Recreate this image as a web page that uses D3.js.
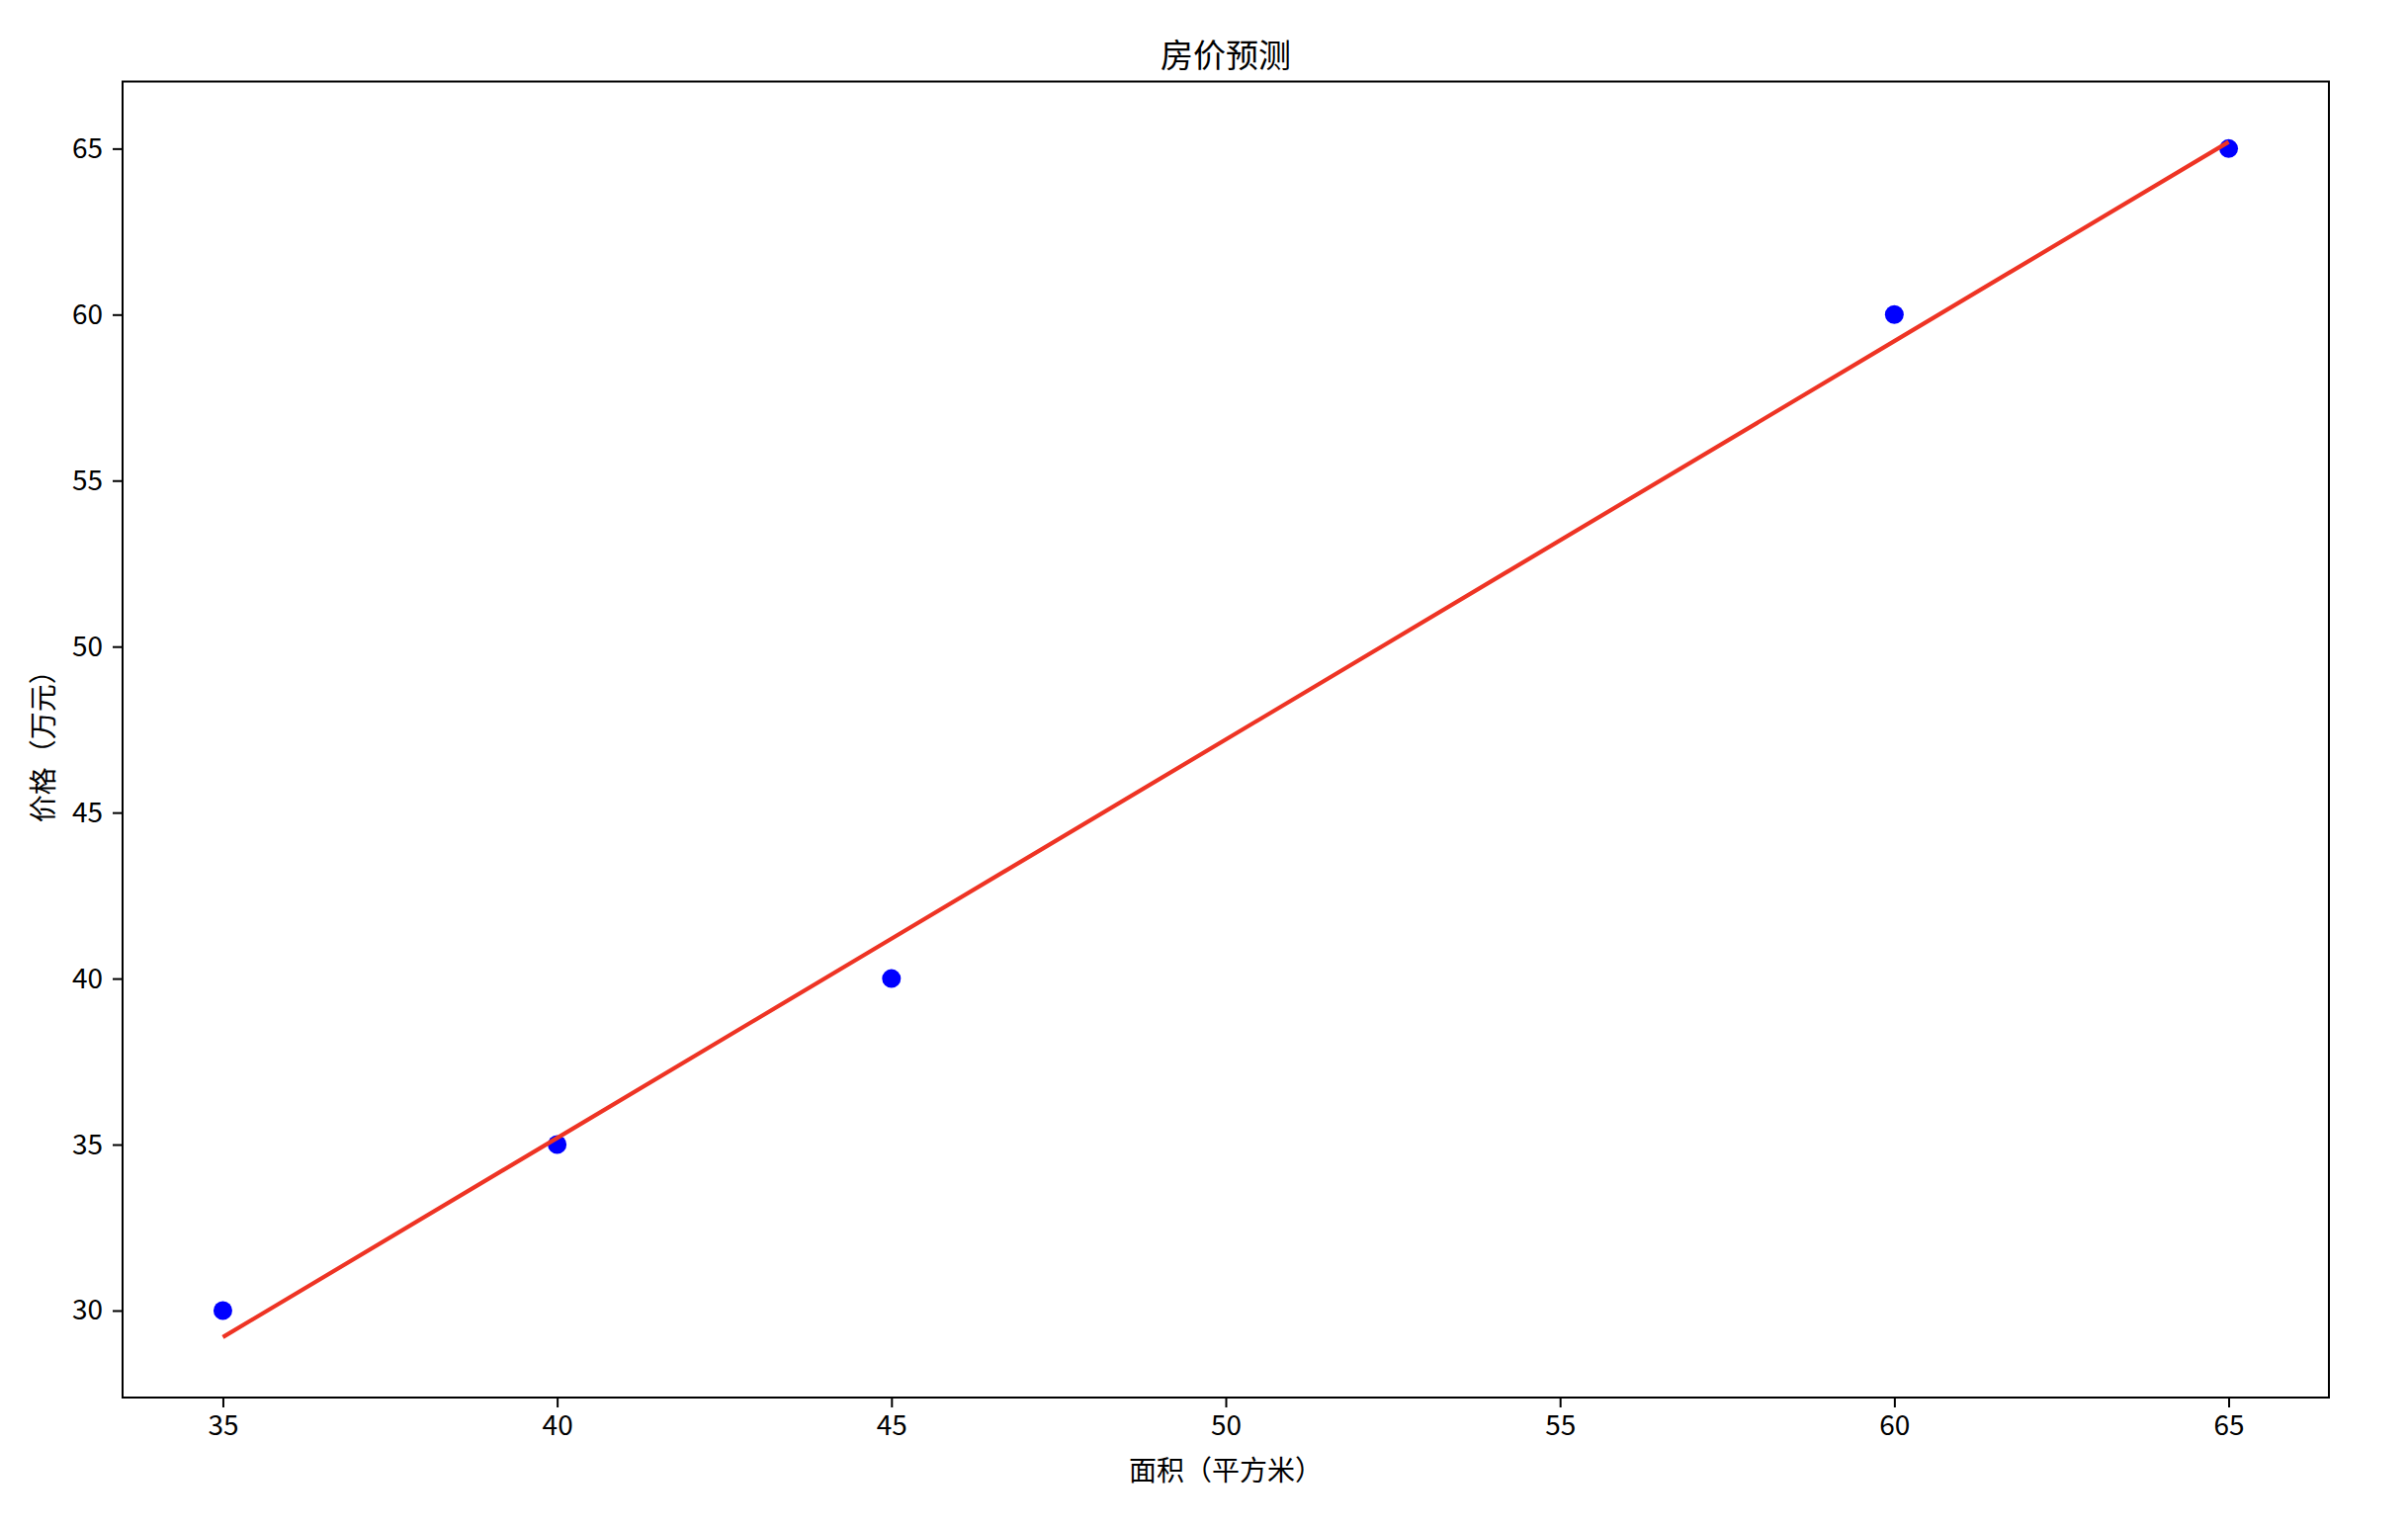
<!DOCTYPE html>
<html>
<head>
<meta charset="utf-8">
<script src="https://cdn.jsdelivr.net/npm/d3@7"></script>
<style>
  body { margin: 0; background: #fff; }
  text { font-family: "Noto Sans CJK SC", "Noto Sans", sans-serif; fill: #000; }
</style>
</head>
<body>
<div id="chart"></div>
<script>
const AREA = [35, 40, 45, 60, 65];
const PRICE = [30, 35, 40, 60, 65];
// predicted price for each area
const PREDICTED = [29.2, 35.2, 41.2, 59.2, 65.2];
const X_TICKS = [35, 40, 45, 50, 55, 60, 65];
const Y_TICKS = [30, 35, 40, 45, 50, 55, 60, 65];

const width = 2436;
const height = 1546;
const margin = { top: 82.5, right: 80, bottom: 132, left: 124 };

let svg = d3.select("#chart")
            .append("svg")
            .attr("width", width)
            .attr("height", height);

let x = d3.scaleLinear().domain([33.5, 66.5]).range([margin.left, width - margin.right]);
let y = d3.scaleLinear().domain([27.38, 67.02]).range([height - margin.bottom, margin.top]);

// points
svg.append("g")
   .selectAll("circle")
   .data(AREA)
   .enter()
   .append("circle")
   .attr("cx", d => x(d))
   .attr("cy", (d, i) => y(PRICE[i]))
   .attr("r", 9.5)
   .attr("fill", "#0000ff");

// fitted line
let line = d3.line()
             .x(d => x(d[0]))
             .y(d => y(d[1]));

svg.append("path")
   .datum(AREA.map((d, i) => [d, PREDICTED[i]]))
   .attr("d", line)
   .attr("fill", "none")
   .attr("stroke", "#ee3424")
   .attr("stroke-width", 4.2);

// axes
let xAxis = svg.append("g")
   .attr("transform", `translate(0,${height - margin.bottom})`)
   .call(d3.axisBottom(x).tickValues(X_TICKS).tickSize(10).tickPadding(8).tickSizeOuter(0));

let yAxis = svg.append("g")
   .attr("transform", `translate(${margin.left},0)`)
   .call(d3.axisLeft(y).tickValues(Y_TICKS).tickSize(10).tickPadding(10).tickSizeOuter(0));

[xAxis, yAxis].forEach(g => {
  g.select(".domain").remove();
  g.selectAll(".tick line").attr("stroke", "#000").attr("stroke-width", 2);
  g.selectAll(".tick text").attr("font-size", "28px").attr("fill", "#000")
   .style("font-family", "'Noto Sans CJK SC', sans-serif");
});

// frame
svg.append("rect")
   .attr("x", margin.left)
   .attr("y", margin.top)
   .attr("width", width - margin.left - margin.right)
   .attr("height", height - margin.top - margin.bottom)
   .attr("fill", "none")
   .attr("stroke", "#000")
   .attr("stroke-width", 2);

let cx = (margin.left + width - margin.right) / 2;

svg.append("text")
   .attr("x", cx)
   .attr("y", 68)
   .attr("text-anchor", "middle")
   .attr("font-size", "33px")
   .text("房价预测");

svg.append("text")
   .attr("x", cx)
   .attr("y", 1498)
   .attr("text-anchor", "middle")
   .attr("font-size", "28px")
   .text("面积（平方米）");

svg.append("text")
   .attr("transform", `translate(54,${(margin.top + height - margin.bottom) / 2}) rotate(-90)`)
   .attr("text-anchor", "middle")
   .attr("font-size", "28px")
   .text("价格（万元）");
</script>
</body>
</html>
